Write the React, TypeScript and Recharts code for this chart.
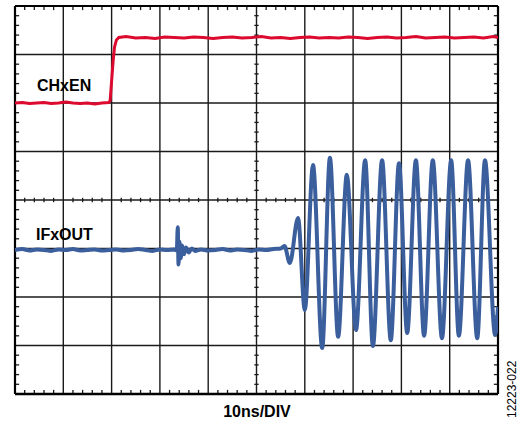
import React from 'react';
import { LineChart, Line, XAxis, YAxis, ReferenceLine } from 'recharts';

// Axis layout: 10 horizontal divisions of 10 ns, 8 vertical divisions
const X_DOMAIN: [number, number] = [0, 100];
const Y_DOMAIN: [number, number] = [-4, 4];
const X_DIVS = [10, 20, 30, 40, 50, 60, 70, 80, 90];
const Y_DIVS = [-3, -2, -1, 0, 1, 2, 3];
const X_SUB = Array.from({ length: 49 }, (_, i) => (i + 1) * 2).filter((v) => v % 10 !== 0);
const Y_SUB = Array.from({ length: 39 }, (_, i) => Math.round((-3.8 + i * 0.2) * 10) / 10).filter(
  (v) => Math.abs(v - Math.round(v)) > 0.01
);

// CHxEN trace (time in ns, level in divisions)
const redT = [0, 1.5, 3, 4.5, 6, 7.5, 9, 10.5, 12, 13.5, 15, 16.5, 18, 19.4, 19.7, 20.0, 20.3, 20.6, 21.0, 21.5,
  23, 25, 27, 29, 31, 33, 35, 37, 39, 41, 43, 45, 47, 49, 51, 53, 55, 57, 59, 61, 63, 65, 67, 69, 71, 73, 75,
  77, 79, 81, 83, 85, 87, 89, 91, 93, 95, 97, 99, 100];
const redV = [2.0, 2.01, 1.99, 2.0, 2.01, 1.99, 2.0, 2.02, 2.0, 1.99, 2.0, 1.98, 2.0, 2.01, 2.05, 2.45, 2.85, 3.15, 3.3, 3.35,
  3.37, 3.34, 3.35, 3.33, 3.36, 3.35, 3.34, 3.36, 3.35, 3.33, 3.35, 3.36, 3.34, 3.35, 3.37, 3.34, 3.35, 3.33, 3.35, 3.36,
  3.34, 3.35, 3.34, 3.36, 3.35, 3.33, 3.35, 3.36, 3.34, 3.35, 3.37, 3.34, 3.35, 3.36, 3.34, 3.35, 3.36, 3.34, 3.37, 3.35];

// IFxOUT trace
const blueT = [0, 1.5, 3, 4.5, 6, 7.5, 9, 10.5, 12, 13.5, 15, 16.5, 18, 19.5, 21, 22.5, 24, 25.5, 27, 28.5, 30, 31.5, 33,
  33.5, 33.7, 33.85, 34.05, 34.3, 34.6, 35.0, 35.4, 36.0, 36.6, 37.3,
  38.5, 40, 41.5, 43, 44.5, 46, 47.5, 49, 50.5, 52, 53.5, 55,
  55.8, 56.9, 58.6, 60.0, 61.7, 63.6, 65.2, 66.9, 68.7, 70.6, 72.5, 74.1, 76.0, 77.8, 79.5, 81.2, 83.0, 84.7,
  86.5, 88.4, 90.3, 91.9, 93.8, 95.7, 97.3, 99.4, 100];
const blueV = [-1.03, -1.01, -1.04, -1.02, -1.03, -1.05, -1.02, -1.03, -1.01, -1.04, -1.03, -1.02, -1.04, -1.03, -1.02,
  -1.04, -1.03, -1.01, -1.03, -1.05, -1.02, -1.03, -1.02,
  -1.04, -0.56, -1.33, -0.86, -1.2, -0.94, -1.12, -0.98, -1.08, -1.0, -1.05,
  -1.02, -1.04, -1.03, -1.01, -1.04, -1.02, -1.03, -1.05, -1.02, -1.03, -1.01, -1.0,
  -0.95, -1.3, -0.37, -2.27, 0.72, -3.05, 0.87, -2.82, 0.52, -2.68, 0.82, -3.01, 0.82, -2.89, 0.76, -2.74, 0.82, -2.8,
  0.82, -2.85, 0.82, -2.8, 0.82, -2.85, 0.82, -2.78, -2.2];

const redData = redT.map((t, i) => ({ t, v: redV[i] }));
const blueData = blueT.map((t, i) => ({ t, v: blueV[i] }));

const GRID = '#1a1a1a';
const RED = '#dc0a2e';
const BLUE = '#3b5f9c';
const FONT = '"Liberation Sans", Arial, Helvetica, sans-serif';

// tick lengths in data units
const EDGE_TY = 0.085; // vertical tick at top/bottom edges
const EDGE_TX = 0.85; // horizontal tick at left/right edges
const MID_TY = 0.045;
const MID_TX = 0.45;

export default function App() {
  const W = 521;
  const H = 421;
  const refs: React.ReactNode[] = [];
  X_DIVS.forEach((x) =>
    refs.push(<ReferenceLine key={'gx' + x} x={x} stroke={GRID} strokeWidth={1.4} />)
  );
  Y_DIVS.forEach((y) =>
    refs.push(<ReferenceLine key={'gy' + y} y={y} stroke={GRID} strokeWidth={1.4} />)
  );
  X_SUB.forEach((x) => {
    refs.push(
      <ReferenceLine key={'tb' + x} segment={[{ x, y: Y_DOMAIN[0] }, { x, y: Y_DOMAIN[0] + EDGE_TY }]} stroke={GRID} strokeWidth={1.3} />
    );
    refs.push(
      <ReferenceLine key={'tt' + x} segment={[{ x, y: Y_DOMAIN[1] }, { x, y: Y_DOMAIN[1] - EDGE_TY }]} stroke={GRID} strokeWidth={1.3} />
    );
    refs.push(
      <ReferenceLine key={'tm' + x} segment={[{ x, y: -MID_TY }, { x, y: MID_TY }]} stroke={GRID} strokeWidth={1.3} />
    );
  });
  Y_SUB.forEach((y) => {
    refs.push(
      <ReferenceLine key={'tl' + y} segment={[{ x: X_DOMAIN[0], y }, { x: X_DOMAIN[0] + EDGE_TX, y }]} stroke={GRID} strokeWidth={1.3} />
    );
    refs.push(
      <ReferenceLine key={'tr' + y} segment={[{ x: X_DOMAIN[1], y }, { x: X_DOMAIN[1] - EDGE_TX, y }]} stroke={GRID} strokeWidth={1.3} />
    );
    refs.push(
      <ReferenceLine key={'tc' + y} segment={[{ x: 50 - MID_TX, y }, { x: 50 + MID_TX, y }]} stroke={GRID} strokeWidth={1.3} />
    );
  });
  refs.push(<ReferenceLine key="bl" x={X_DOMAIN[0]} stroke="#000" strokeWidth={2.2} />);
  refs.push(<ReferenceLine key="br" x={X_DOMAIN[1]} stroke="#000" strokeWidth={2.2} />);
  refs.push(<ReferenceLine key="bt" y={Y_DOMAIN[1]} stroke="#000" strokeWidth={2.2} />);
  refs.push(<ReferenceLine key="bb" y={Y_DOMAIN[0]} stroke="#000" strokeWidth={2.6} />);

  return (
    <div style={{ position: 'absolute', left: 0, top: 0, width: W, height: H, background: '#fff' }}>
      <LineChart width={W} height={H} margin={{ top: 6, left: 15, right: 23, bottom: 27 }}>
        <XAxis type="number" dataKey="t" domain={X_DOMAIN} hide allowDataOverflow />
        <YAxis type="number" dataKey="v" domain={Y_DOMAIN} hide allowDataOverflow />
        {refs}
        <Line data={redData} dataKey="v" type="linear" stroke={RED} strokeWidth={3} dot={false} isAnimationActive={false} />
        <Line data={blueData} dataKey="v" type="monotone" stroke={BLUE} strokeWidth={4} dot={false} isAnimationActive={false} />
      </LineChart>
      <svg width={W} height={H} style={{ position: 'absolute', left: 0, top: 0, pointerEvents: 'none' }}>
        <text x={37} y={91} fontFamily={FONT} fontWeight="bold" fontSize={16} fill="#000">CHxEN</text>
        <text x={36} y={239.5} fontFamily={FONT} fontWeight="bold" fontSize={16} fill="#000">IFxOUT</text>
        <text x={257} y={417} textAnchor="middle" fontFamily={FONT} fontWeight="bold" fontSize={16} fill="#000">10ns/DIV</text>
        <text x={0} y={0} transform="translate(516 418) rotate(-90)" fontFamily={FONT} fontSize={12} fill="#000">12223-022</text>
      </svg>
    </div>
  );
}
